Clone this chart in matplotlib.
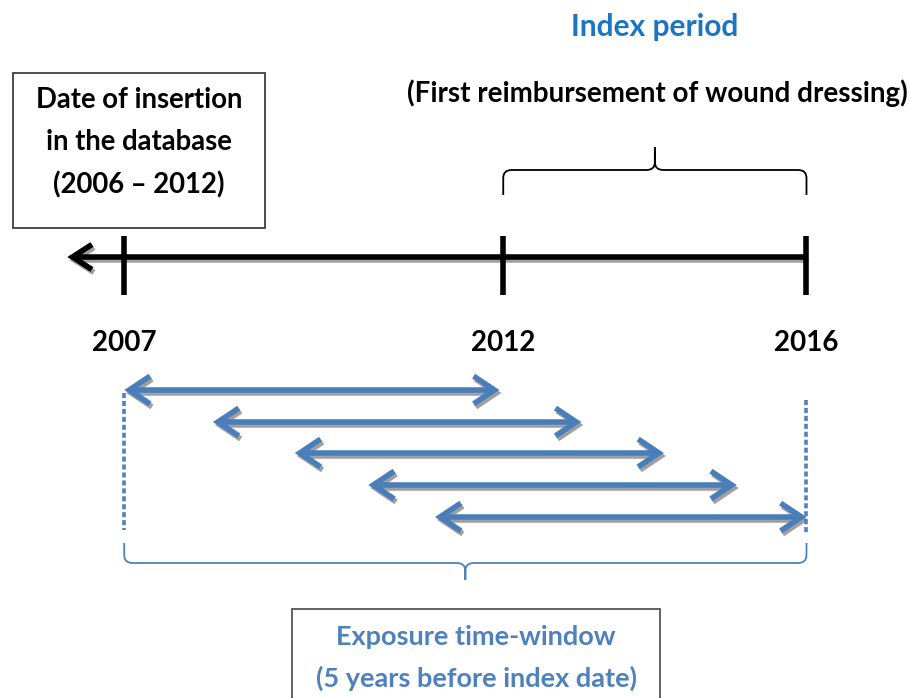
import matplotlib
matplotlib.use("Agg")
import matplotlib.pyplot as plt
from matplotlib.patches import FancyArrowPatch, Rectangle, PathPatch
from matplotlib.path import Path

plt.rcParams['font.family'] = ['Lato', 'DejaVu Sans']
plt.rcParams['font.weight'] = 'bold'

# Timeline data (years)
timeline_start = 2006.25
timeline_end = 2016
tick_years = [2007, 2012, 2016]
index_period = (2012, 2016)
exposure_span = (2007, 2016)

# Exposure windows (start / end years)
window_start = [2007.0, 2008.17, 2009.25, 2010.22, 2011.10]
window_end = [2011.95, 2013.03, 2014.12, 2015.08, 2016.0]
window_row = [390, 422, 453, 485, 517]

BLUE = '#4a7ebb'
LIGHT_BLUE = '#4f81bd'
TITLE_BLUE = '#1c75c2'
SHADOW = '#a0a0a0'

W, H = 909, 698
fig = plt.figure(figsize=(W / 100, H / 100), dpi=100)

# Year axis: x in years, y in pixels from top
ax = fig.add_axes([0, 0, 1, 1])
px_per_year = 75.81
ax.set_xlim(2011.667 - 478 / px_per_year, 2011.667 + (W - 478) / px_per_year)
ax.set_ylim(H, 0)
ax.axis('off')
dx = 1 / px_per_year  # one pixel in years


def arrow(x0, x1, y, style, color, lw, ms, z=3):
  p = FancyArrowPatch((x0, y), (x1, y), arrowstyle=style, color=color, lw=lw,
                      mutation_scale=ms, shrinkA=0, shrinkB=0, zorder=z,
                      joinstyle='miter', capstyle='butt')
  ax.add_patch(p)


def brace(x0, x1, y, end_len, tip_len, r, color, lw, d=1):
  """Curly brace; d=1 -> ends point down and tip up, d=-1 reversed."""
  xm = (x0 + x1) / 2
  c = 8 * d
  verts, codes = [], []
  for xe, s in ((x0, 1), (x1, -1)):
    verts += [(xe, y + end_len * d), (xe, y + c), (xe, y), (xe + s * r, y),
              (xm - s * r, y), (xm, y), (xm, y - c), (xm, y - tip_len * d)]
    codes += [Path.MOVETO, Path.LINETO, Path.CURVE3, Path.CURVE3,
              Path.LINETO, Path.CURVE3, Path.CURVE3, Path.LINETO]
  ax.add_patch(PathPatch(Path(verts, codes), fc='none', ec=color, lw=lw, zorder=2))


# Main timeline with shadow
y_main = 257
arrow(timeline_start + 2 * dx, timeline_end + 2 * dx, y_main + 3, '<-,head_length=0.7,head_width=0.45',
      SHADOW, 4.0, 20, z=2)
arrow(timeline_start, timeline_end, y_main, '<-,head_length=0.7,head_width=0.45', 'black', 4.0, 20)
for yr in tick_years:
  ax.plot([yr, yr], [236, 295], color='black', lw=4, solid_capstyle='butt', zorder=4)
  ax.text(yr, 343, str(yr), ha='center', va='center', fontsize=20, fontweight='bold')

# Index period brace
brace(index_period[0], index_period[1], 170, 25, 23, 0.11, 'black', 1.3, d=1)

# Exposure windows
for s, e, y in zip(window_start, window_end, window_row):
  arrow(s + 2 * dx, e + 2 * dx, y + 3, '<->,head_length=0.75,head_width=0.5', SHADOW, 4.0, 20, z=2)
  arrow(s, e, y, '<->,head_length=0.75,head_width=0.5', BLUE, 4.0, 20)

# Dashed boundaries
for yr, (ya, yb) in zip(exposure_span, [(393, 530), (400, 535)]):
  ax.plot([yr, yr], [ya, yb], color=LIGHT_BLUE, lw=2.6, dashes=(1.4, 0.8), zorder=2)

# Exposure brace
brace(exposure_span[0], exposure_span[1], 563, 20, 17, 0.11, LIGHT_BLUE, 1.3, d=-1)

# Decorations in pixel space
deco = fig.add_axes([0, 0, 1, 1], facecolor='none')
deco.set_xlim(0, W)
deco.set_ylim(H, 0)
deco.axis('off')

deco.text(655, 27, 'Index period', ha='center', va='center', fontsize=21.5, color=TITLE_BLUE)
deco.text(657, 93, '(First reimbursement of wound dressing)', ha='center', va='center', fontsize=20)

deco.add_patch(Rectangle((13, 73), 252, 155, fc='white', ec='#404040', lw=1.3))
deco.text(139, 143, 'Date of insertion\nin the database\n(2006 \u2013 2012)', ha='center', va='center',
          fontsize=19.8, linespacing=1.75)

deco.add_patch(Rectangle((292, 609), 368, 100, fc='white', ec='#555555', lw=1.3, clip_on=False))
deco.text(476, 658, 'Exposure time-window\n(5 years before index date)', ha='center', va='center',
          fontsize=19.5, color=LIGHT_BLUE, linespacing=1.8)

fig.savefig('out.png', dpi=100)
